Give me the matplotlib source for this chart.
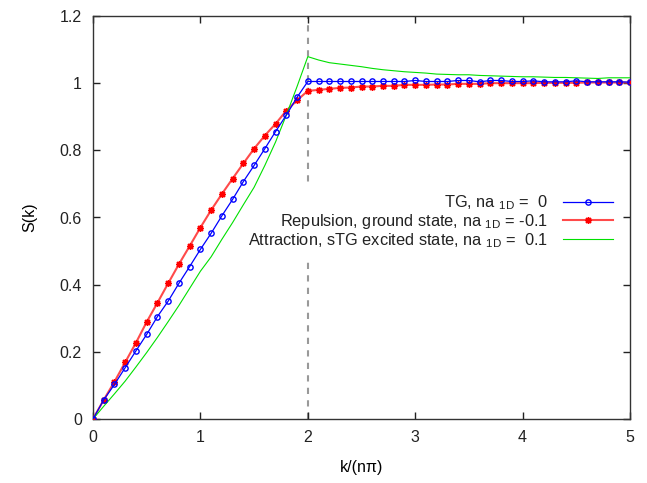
import matplotlib
matplotlib.use("Agg")
import matplotlib.pyplot as plt
from matplotlib.ticker import FuncFormatter

plt.rcParams['font.family'] = ['Liberation Sans', 'DejaVu Sans']
plt.rcParams['mathtext.fontset'] = 'custom'
plt.rcParams['mathtext.rm'] = 'Liberation Sans'

# k/(n pi) grid, step 0.1
k = [round(0.1 * i, 1) for i in range(51)]

s_tg = [0, 0.057, 0.103, 0.153, 0.203, 0.252, 0.305, 0.351, 0.404, 0.454,
        0.505, 0.553, 0.605, 0.654, 0.707, 0.755, 0.805, 0.856, 0.905, 0.958,
        1.005, 1.005, 1.005, 1.005, 1.005, 1.005, 1.005, 1.005, 1.005, 1.005,
        1.008, 1.005, 1.005, 1.005, 1.008, 1.008, 1.004, 1.008, 1.008, 1.005,
        1.005, 1.007, 1.004, 1.004, 1.004, 1.007, 1.004, 1.004, 1.004, 1.004,
        1.003]

s_rep = [0, 0.057, 0.111, 0.169, 0.227, 0.289, 0.346, 0.404, 0.461, 0.515,
         0.570, 0.622, 0.670, 0.716, 0.761, 0.805, 0.844, 0.879, 0.918, 0.949,
         0.977, 0.980, 0.983, 0.986, 0.987, 0.990, 0.990, 0.992, 0.992, 0.995,
         0.995, 0.995, 0.996, 0.996, 0.998, 0.998, 0.998, 1.0, 1.0, 1.0,
         1.0, 1.0, 1.001, 1.001, 1.001, 1.001, 1.002, 1.002, 1.002, 1.002,
         1.002]

s_att = [0, 0.038, 0.075, 0.113, 0.155, 0.198, 0.243, 0.290, 0.338, 0.389,
         0.440, 0.483, 0.535, 0.585, 0.638, 0.690, 0.755, 0.825, 0.905, 0.990,
         1.079, 1.069, 1.061, 1.057, 1.053, 1.049, 1.044, 1.040, 1.037, 1.034,
         1.032, 1.030, 1.027, 1.026, 1.025, 1.025, 1.023, 1.022, 1.021, 1.020,
         1.019, 1.019, 1.018, 1.017, 1.017, 1.016, 1.015, 1.014, 1.016, 1.016,
         1.016]

labels = ['TG, na $_{\\rm 1D}$ =  0',
          'Repulsion, ground state, na $_{\\rm 1D}$ = -0.1',
          'Attraction, sTG excited state, na $_{\\rm 1D}$ =  0.1']

fig = plt.figure(figsize=(6.47, 4.83), dpi=100)
ax = fig.add_axes([93 / 647, 64 / 483, 537 / 647, 403 / 483])

ax.plot([2, 2], [0, 1.2], color='#999999', ls=(0, (3, 3)), lw=1.5, zorder=1)
ax.plot(k, s_tg, color='#0000ff', lw=0.9, marker='o', ms=3.8, mfc='none', mew=1,
        label=labels[0], zorder=4)
ax.plot(k, s_rep, color='#ff4a4a', lw=1.5, marker=(8, 2, 0), ms=5, mew=1,
        mec='#ff0000', label=labels[1], zorder=3)
ax.plot(k, s_att, color='#00e000', lw=0.8, label=labels[2], zorder=3)

ax.set_xlim(0, 5)
ax.set_ylim(0, 1.2)
ax.set_xticks([0, 1, 2, 3, 4, 5])
ax.set_yticks([0, 0.2, 0.4, 0.6, 0.8, 1.0, 1.2])
ax.xaxis.set_major_formatter(FuncFormatter(lambda v, p: '%g' % v))
ax.yaxis.set_major_formatter(FuncFormatter(lambda v, p: '%g' % v))
ax.tick_params(direction='in', length=5, width=1, top=True, right=True,
               labelsize=11.5, pad=8, colors='#222222')
for sp in ax.spines.values():
    sp.set_color('#333333')
    sp.set_linewidth(1)

ax.set_xlabel('k/(nπ)', fontsize=11.5, labelpad=11)
ax.set_ylabel('S(k)', fontsize=11.5, labelpad=16)

# key box hides the dashed line only, data lines stay on top
leg = ax.legend(loc='center right', bbox_to_anchor=(0.983, 0.49),
                markerfirst=False, fontsize=11.8, handlelength=3.1,
                handletextpad=0.9, labelspacing=0.0, borderpad=0.45,
                borderaxespad=0, fancybox=False, framealpha=1)
leg.get_frame().set_edgecolor('none')
leg.set_zorder(2)
for t in leg.get_texts():
    t.set_ha('right')
    t.set_color('#222222')

fig.savefig('out.png', dpi=100)
